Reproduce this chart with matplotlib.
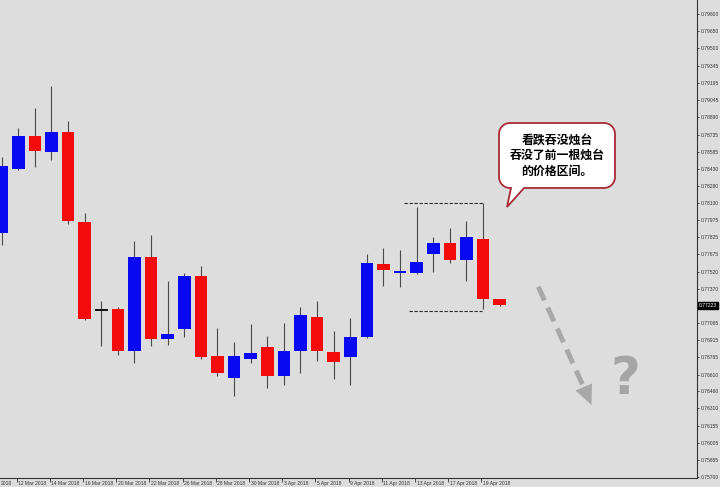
import numpy as np
import matplotlib
matplotlib.use('Agg')
import matplotlib.pyplot as plt
from matplotlib.patches import Polygon
from matplotlib.transforms import Affine2D, blended_transform_factory

# daily candles, 9 Mar 2018 .. 20 Apr 2018
dates = ['9 Mar 2018', '12 Mar 2018', '13 Mar 2018', '14 Mar 2018', '15 Mar 2018',
         '16 Mar 2018', '19 Mar 2018', '20 Mar 2018', '21 Mar 2018', '22 Mar 2018',
         '23 Mar 2018', '26 Mar 2018', '27 Mar 2018', '28 Mar 2018', '29 Mar 2018',
         '30 Mar 2018', '2 Apr 2018', '3 Apr 2018', '4 Apr 2018', '5 Apr 2018',
         '6 Apr 2018', '9 Apr 2018', '10 Apr 2018', '11 Apr 2018', '12 Apr 2018',
         '13 Apr 2018', '16 Apr 2018', '17 Apr 2018', '18 Apr 2018', '19 Apr 2018',
         '20 Apr 2018']
opens = np.array([0.77861, 0.78428, 0.78723, 0.78578, 0.78761, 0.77964, 0.77184, 0.77191,
                  0.76821, 0.77648, 0.76925, 0.77016, 0.77483, 0.76774, 0.76577, 0.76748,
                  0.76857, 0.76600, 0.76819, 0.77122, 0.76812, 0.76768, 0.76940, 0.77589,
                  0.77507, 0.77507, 0.77675, 0.77778, 0.77624, 0.77813, 0.77276])
highs = np.array([0.78534, 0.78791, 0.78973, 0.79165, 0.78855, 0.78038, 0.77261, 0.77206,
                  0.77793, 0.77846, 0.77439, 0.77507, 0.77574, 0.77025, 0.76898, 0.77058,
                  0.76951, 0.77069, 0.77211, 0.77264, 0.76996, 0.77108, 0.77678, 0.77728,
                  0.77713, 0.78096, 0.77831, 0.77910, 0.77972, 0.78132, 0.77280])
lows = np.array([0.77757, 0.78420, 0.78451, 0.78510, 0.77941, 0.77095, 0.76866, 0.76783,
                 0.76715, 0.76863, 0.76872, 0.76945, 0.76750, 0.76597, 0.76423, 0.76715,
                 0.76494, 0.76515, 0.76621, 0.76733, 0.76573, 0.76515, 0.76936, 0.77394,
                 0.77383, 0.77500, 0.77518, 0.77595, 0.77441, 0.77188, 0.77215])
closes = np.array([0.78457, 0.78723, 0.78590, 0.78761, 0.77970, 0.77099, 0.77184, 0.76821,
                   0.77654, 0.76922, 0.76969, 0.77483, 0.76768, 0.76621, 0.76772, 0.76804,
                   0.76600, 0.76821, 0.77137, 0.76819, 0.76721, 0.76940, 0.77595, 0.77536,
                   0.77530, 0.77607, 0.77778, 0.77624, 0.77828, 0.77282, 0.77223])

# price scale labels on the right
price_ticks = [0.79800, 0.79650, 0.79500, 0.79345, 0.79195, 0.79045, 0.78890, 0.78735,
               0.78585, 0.78430, 0.78280, 0.78130, 0.77975, 0.77825, 0.77675, 0.77520,
               0.77370, 0.77065, 0.76915, 0.76765, 0.76610, 0.76460, 0.76310, 0.76155,
               0.76005, 0.75855, 0.75700]
last_price = 0.77223

# range of the engulfed candle
range_top = 0.78132
range_bottom = 0.77175

callout_lines = ['看跌吞没烛台', '吞没了前一根烛台', '的价格区间。']

bg = '#dddddd'
blue = '#0808f2'
red = '#f50a0a'
tick_font = ['Liberation Sans', 'DejaVu Sans']

fig = plt.figure(figsize=(7.2, 4.87), dpi=100, facecolor=bg)
ax = fig.add_axes([0, 1 - 478 / 487, 697 / 720, 478 / 487], facecolor=bg)

x = np.arange(len(dates))
cols = np.where(closes > opens, blue, np.where(closes < opens, red, 'black'))

# wicks
ax.vlines(x, lows, highs, color='#4a4a4a', lw=0.8, zorder=1)
# bodies
ax.bar(x, np.abs(closes - opens), width=0.75, bottom=np.minimum(opens, closes),
       color=cols, linewidth=0, zorder=2)
doji = closes == opens
ax.hlines(opens[doji], x[doji] - 0.375, x[doji] + 0.375, color='black', lw=1.3, zorder=3)

# dashed box around the engulfed range
ax.plot([24.25, 29.0], [range_top, range_top], color='#2a2a2a', lw=0.8,
        dashes=(3, 1.5), zorder=4)
ax.plot([24.55, 28.95], [range_bottom, range_bottom], color='#2a2a2a', lw=0.8,
        dashes=(3, 1.5), zorder=4)

ax.set_xlim(-0.102, 41.886)
ax.set_ylim(0.756938, 0.79927)

# axes styling (MT4 look)
for s in ['top', 'left']:
    ax.spines[s].set_visible(False)
for s in ['bottom', 'right']:
    ax.spines[s].set_color('#333333')
    ax.spines[s].set_linewidth(0.8)

ax.yaxis.tick_right()
ax.set_yticks(price_ticks)
ax.set_yticklabels(['%.5f' % p for p in price_ticks], family=tick_font)
ax.tick_params(axis='y', direction='out', length=1.5, width=0.6, pad=1,
               labelsize=3.6, colors='#333333')

ax.set_xticks(x[1::2] - 0.1)
ax.set_xticklabels(dates[1::2], ha='left', family=tick_font)
ax.tick_params(axis='x', direction='out', length=2.9, width=0.6, pad=-0.6,
               labelsize=3.6, colors='#333333')
offset = Affine2D().translate(1.5, 0)
for lab in ax.get_xticklabels():
    lab.set_transform(lab.get_transform() + offset)
# tail of the "8 Mar 2018" label that is cut by the left edge
ax.text(0.0005, -0.0105, '2018', transform=ax.transAxes, fontsize=3.6, family=tick_font,
        color='#333333', ha='left', va='center', clip_on=False)

# current price marker
yt = blended_transform_factory(ax.transAxes, ax.transData)
ax.text(1.003, last_price, '%.5f' % last_price, transform=yt, fontsize=3.6,
        family=tick_font, color='white', ha='left', va='center',
        bbox=dict(fc='black', ec='black', pad=0.8), clip_on=False, zorder=5)

# annotations are placed in image pixels (y down)
px = Affine2D().scale(1 / 100, -1 / 100).translate(0, 4.87) + fig.dpi_scale_trans

# speech bubble
L, R, T, B, r = 499, 615, 123, 188, 11


def arc(cx, cy, a0, a1):
    t = np.radians(np.linspace(a0, a1, 12))
    return np.column_stack([cx + r * np.cos(t), cy + r * np.sin(t)])


pts = np.vstack([
    arc(R - r, T + r, 270, 360),
    arc(R - r, B - r, 0, 90),
    [[524, B], [507, 207], [511, B]],
    arc(L + r, B - r, 90, 180),
    arc(L + r, T + r, 180, 270),
])
bubble = Polygon(pts, closed=True, fc='white', ec='#a82a35', lw=1.3,
                 transform=px, zorder=6)
fig.add_artist(bubble)
for i, line in enumerate(callout_lines):
    fig.text(557, 140 + 15.5 * i, line, transform=px, fontsize=8.6, weight='bold',
             family=['Noto Sans CJK SC', 'DejaVu Sans'], ha='center', va='center',
             color='black', zorder=7)

# dashed grey arrow and question mark
grey = '#a8a8a8'
fig.add_artist(plt.Line2D([538.3, 583.5], [286.7, 386.8], transform=px, color=grey,
                          lw=3.6, dashes=(3, 1.6), solid_capstyle='butt',
                          dash_capstyle='butt', zorder=6))
fig.add_artist(Polygon([[591.5, 405], [592.0, 383.5], [575.5, 390.5]], closed=True,
                       fc=grey, ec='none', transform=px, zorder=6))
fig.text(625, 380, '?', transform=px, fontsize=37, weight='bold', color='#a5a5a5',
         ha='center', va='center', family='DejaVu Sans', zorder=6)

fig.savefig('out.png', dpi=100, facecolor=bg)
